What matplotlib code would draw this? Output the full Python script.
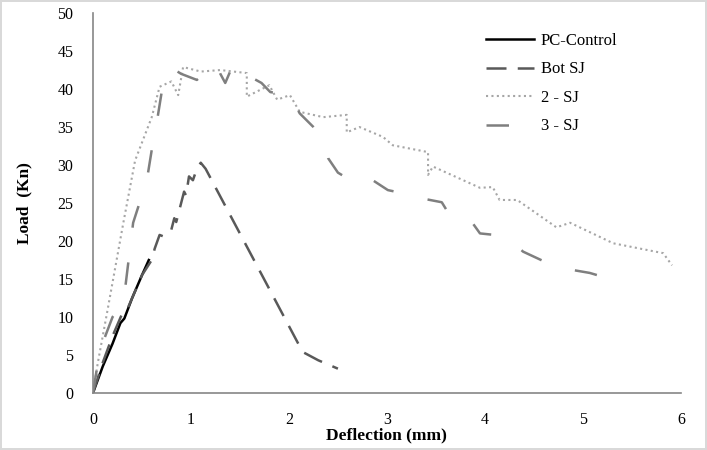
import matplotlib.pyplot as plt

# Load-deflection curves
pc_x = [0, 0.1, 0.2, 0.28, 0.32, 0.4, 0.45, 0.5, 0.57]
pc_y = [0, 3.5, 6.5, 9.2, 9.8, 12.5, 14.0, 15.5, 17.5]

bot_x = [0, 0.1, 0.2, 0.3, 0.35, 0.45, 0.5, 0.6, 0.63, 0.68, 0.72, 0.8, 0.83,
         0.85, 0.9, 0.93, 0.95, 0.98, 1.02, 1.06, 1.1, 1.15, 2.14, 2.3, 2.5]
bot_y = [0, 4.0, 7.5, 10.5, 11.0, 14.0, 15.5, 17.5, 19.0, 20.8, 20.6, 21.5, 23.0,
         22.5, 25.0, 26.5, 26.0, 28.5, 28.0, 29.5, 30.3, 29.5, 5.4, 4.3, 3.2]

sj2_x = [0, 0.05, 0.15, 0.31, 0.43, 0.6, 0.68, 0.8, 0.87, 0.92, 1.1, 1.3, 1.57,
         1.57, 1.8, 1.88, 2.01, 2.11, 2.35, 2.59, 2.59, 2.72, 2.96, 3.06, 3.42,
         3.42, 3.47, 3.95, 4.08, 4.15, 4.33, 4.73, 4.87, 5.31, 5.82, 5.91]
sj2_y = [0, 4.0, 11.0, 22.4, 30.6, 36.3, 40.3, 41.0, 39.2, 42.9, 42.3, 42.5, 42.1,
         39.0, 40.5, 38.6, 39.2, 37.0, 36.3, 36.6, 34.3, 35.0, 33.7, 32.6, 31.7,
         28.7, 29.8, 27.0, 27.1, 25.4, 25.4, 21.8, 22.4, 19.7, 18.4, 16.8]

sj3_x = [0, 0.07, 0.2, 0.31, 0.41, 0.55, 0.6, 0.66, 0.7, 0.8, 0.9, 1.0, 1.06,
         1.15, 1.26, 1.3, 1.35, 1.43, 1.55, 1.72, 1.81, 2.01, 2.11, 2.25, 2.35,
         2.4, 2.5, 2.59, 2.76, 3.01, 3.23, 3.4, 3.56, 3.66, 3.85, 3.95, 4.1,
         4.26, 4.39, 4.64, 4.8, 5.07, 5.28]
sj3_y = [0, 5.6, 10.0, 11.8, 22.4, 28.0, 32.0, 36.3, 39.5, 42.8, 42.0, 41.5, 41.2,
         42.2, 43.4, 42.0, 40.8, 43.2, 42.0, 40.8, 39.6, 39.2, 36.8, 35.0, 33.5,
         30.9, 29.0, 28.3, 28.8, 26.7, 26.1, 25.5, 25.1, 23.0, 22.8, 21.0, 20.8,
         20.1, 18.6, 17.1, 16.4, 15.8, 15.0]

x_ticks = [0, 1, 2, 3, 4, 5, 6]
y_ticks = [0, 5, 10, 15, 20, 25, 30, 35, 40, 45, 50]

plt.rcParams["font.family"] = ["Liberation Serif", "DejaVu Serif"]

fig = plt.figure(figsize=(7.07, 4.5), dpi=100)
fig.patch.set_edgecolor("#d9d9d9")
fig.patch.set_linewidth(1.5)
ax = fig.add_axes([0.1315, 0.1267, 0.8315, 0.8443])

ax.plot(pc_x, pc_y, color="black", lw=1.8, label="PC-Control")
ax.plot(bot_x, bot_y, color="#595959", lw=1.8, dashes=(8, 4.5), label="Bot SJ")
ax.plot(sj2_x, sj2_y, color="#a6a6a6", lw=1.5, dashes=(1, 1.6), label="2 - SJ")
ax.plot(sj3_x, sj3_y, color="#7f7f7f", lw=1.8, dashes=(9, 14), label="3 - SJ")

ax.set_xlim(0, 6)
ax.set_ylim(0, 50)
ax.set_xticks(x_ticks)
ax.set_yticks(y_ticks)
ax.tick_params(axis="y", length=0, labelsize=11.5, pad=14)
ax.tick_params(axis="x", length=0, labelsize=11.5, pad=14)
for side in ("top", "right"):
    ax.spines[side].set_visible(False)
for side in ("left", "bottom"):
    ax.spines[side].set_color("#868686")
    ax.spines[side].set_linewidth(1.2)

ax.set_xlabel("Deflection (mm)", fontsize=12.5, fontweight="bold", labelpad=-1)
ax.set_ylabel("Load  (Kn)", fontsize=12.5, fontweight="bold", labelpad=18)

ax.legend(loc="upper left", bbox_to_anchor=(0.643, 0.987), frameon=False,
          fontsize=12, handlelength=2.9, handletextpad=0.4, labelspacing=0.75)

fig.savefig("out.png", dpi=100, edgecolor=fig.get_edgecolor())
